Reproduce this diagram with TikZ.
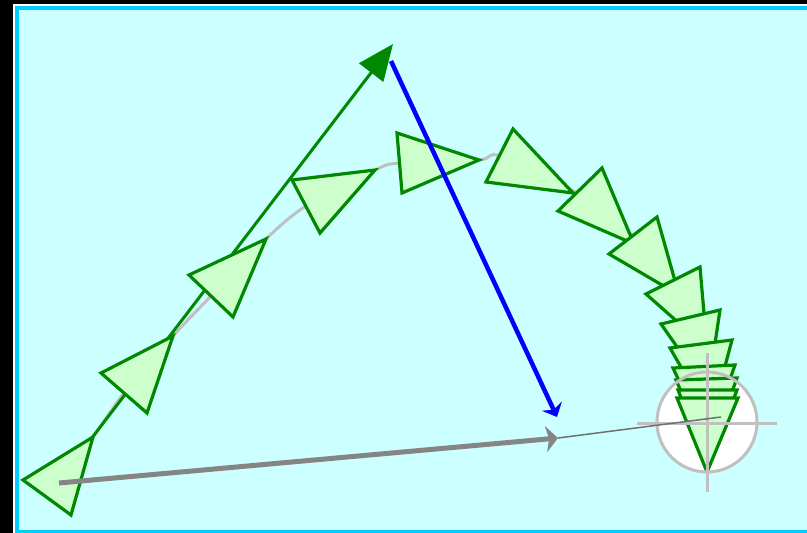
\documentclass[tikz,border=0pt]{standalone}
\usetikzlibrary{arrows.meta}
\definecolor{bgc}{HTML}{CCFFFF}
\definecolor{brd}{HTML}{00CCFF}
\definecolor{trif}{HTML}{CCFFCC}
\definecolor{tril}{HTML}{008800}
\definecolor{lgray}{HTML}{C0C0C0}
\definecolor{dgray}{HTML}{858585}
\definecolor{tgray}{HTML}{707070}
\begin{document}
\begin{tikzpicture}[x=1pt,y=-1pt,
  tri/.style={fill=trif,draw=tril,line width=3.2pt,line join=miter},
  cross/.style={draw=lgray,line width=3pt},
  pathline/.style={draw=lgray,line width=3pt}]
\useasboundingbox (0,0) rectangle (807,533);
\fill[black] (0,0) rectangle (807,533);
\fill[white] (13,4) rectangle (840,560);
\draw[brd,line width=3.5pt,fill=bgc] (17,8) rectangle (830,531.5);
% named points
\coordinate (gstart) at (62,477);
\coordinate (gtip) at (393,44);
\coordinate (bstart) at (391,61);
\coordinate (btip) at (557,417);
\coordinate (ystart) at (59,483);
\coordinate (ytip) at (558,438);
\coordinate (target) at (721,417);
\coordinate (ctr) at (707,422);
% target circle background
\fill[white] (ctr) circle (50);
% gray motion path
\draw[pathline] plot[smooth] coordinates {(47,497) (93,437) (124,393) (173,336) (211,296) (266,239) (306,206) (375,170) (400,163) (479,160) (500,156) (575,192) (633,236) (673,280) (690,317) (701,344) (704,366) (707,398) (707,470)};
% green direction arrow
\draw[tril,line width=3pt,-{Triangle[length=36pt,width=30pt]}] (gstart) -- (gtip);
% triangle markers
\draw[tri] (23,480) -- (93,437) -- (71,515) -- cycle;
\draw[tri] (101,373) -- (173,336) -- (147,413) -- cycle;
\draw[tri] (189,275) -- (266,239) -- (233,317) -- cycle;
\draw[tri] (292,180) -- (375,170) -- (320,233) -- cycle;
\draw[tri] (397,133) -- (479,160) -- (402,193) -- cycle;
\draw[tri] (513,129) -- (573,193) -- (486,182) -- cycle;
\draw[tri] (602,168) -- (634,244) -- (558,211) -- cycle;
\draw[tri] (657,217) -- (679,295) -- (609,254) -- cycle;
\draw[tri] (700,267) -- (707,348) -- (646,294) -- cycle;
\draw[tri] (720,310) -- (708,391) -- (661,324) -- cycle;
\draw[tri] (732,340) -- (711,419) -- (670,348) -- cycle;
\draw[tri] (735,365) -- (708,442) -- (673,368) -- cycle;
\draw[tri] (737,378) -- (709,455) -- (676,380) -- cycle;
\draw[tri] (737,390) -- (708,466) -- (678,390) -- cycle;
\draw[tri] (738,398) -- (707,472) -- (677,398) -- cycle;
% target outline and crosshair
\draw[lgray,line width=3pt] (ctr) circle (50);
\draw[cross] (637,423) -- (777,423);
\draw[cross] (707,353) -- (707,492);
% thin line to target
\draw[tgray,line width=1.5pt] (ytip) -- (target);
% gray thick arrow
\draw[dgray,line width=5pt,-{Stealth[length=12pt,width=26pt,inset=3pt]}] (ystart) -- (ytip);
% blue arrow
\draw[blue,line width=4.5pt,-{Stealth[length=12pt,width=22pt,inset=4pt]}] (bstart) -- (btip);
\end{tikzpicture}
\end{document}
